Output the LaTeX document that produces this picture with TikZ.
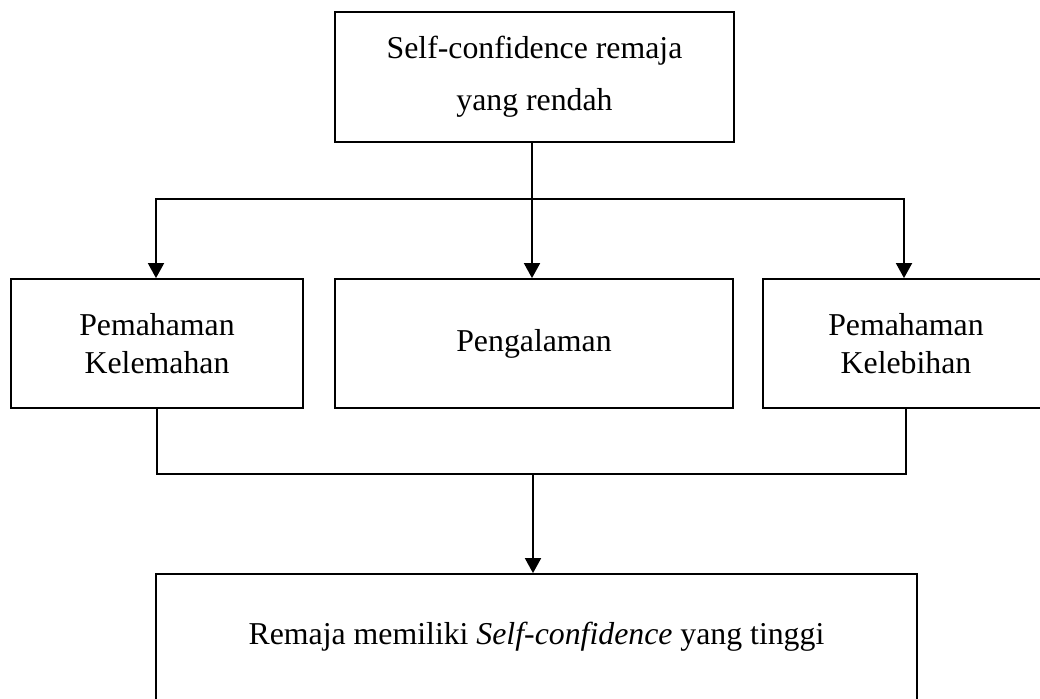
\documentclass[tikz,border=0pt]{standalone}
\usepackage{fontspec}
\setmainfont{Liberation Serif}
\usetikzlibrary{arrows.meta,calc}
\tikzset{
  box/.style={draw=black, line width=1.8pt, rectangle, inner sep=0pt, align=center,
    font=\fontsize{31.8}{38}\selectfont},
  arr/.style={line width=1.8pt, -{Triangle[width=16pt,length=15pt]}},
  conn/.style={line width=1.6pt}
}
\begin{document}
\begin{tikzpicture}[x=1pt,y=-1pt]
\useasboundingbox (0,0) rectangle (1040,698);
\clip (0,0) rectangle (1040,698);
\node[box, minimum width=399pt, minimum height=130pt,
  font=\fontsize{31.8}{52}\selectfont] (top) at (534.5,77)
  {Self-confidence remaja\\ yang rendah};
\node[box, minimum width=292pt, minimum height=129pt] (left) at (157,343.5)
  {Pemahaman\\ Kelemahan};
\node[box, minimum width=398pt, minimum height=129pt] (mid) at (534,343.5)
  {Pengalaman};
\node[box, minimum width=286pt, minimum height=129pt] (right) at (906,343.5)
  {Pemahaman\\ Kelebihan};
\node[box, minimum width=761pt, minimum height=126pt] (bottom) at (536.5,637)
  {Remaja memiliki \textit{Self-confidence} yang tinggi};
\coordinate (j1) at (532,199);
\coordinate (j2) at (533,474);
\draw[conn] ([xshift=-2.5pt]top.south) -- (j1);
\draw[arr] (j1) -- (j1 |- mid.north);
\draw[arr] (j1) -| ([xshift=-1pt]left.north);
\draw[arr] (j1) -| ([xshift=-2pt]right.north);
\draw[conn] (left.south) -- (left.south |- j2) -- (right.south |- j2) -- (right.south);
\draw[arr] (j2) -- (j2 |- bottom.north);
\end{tikzpicture}
\end{document}
